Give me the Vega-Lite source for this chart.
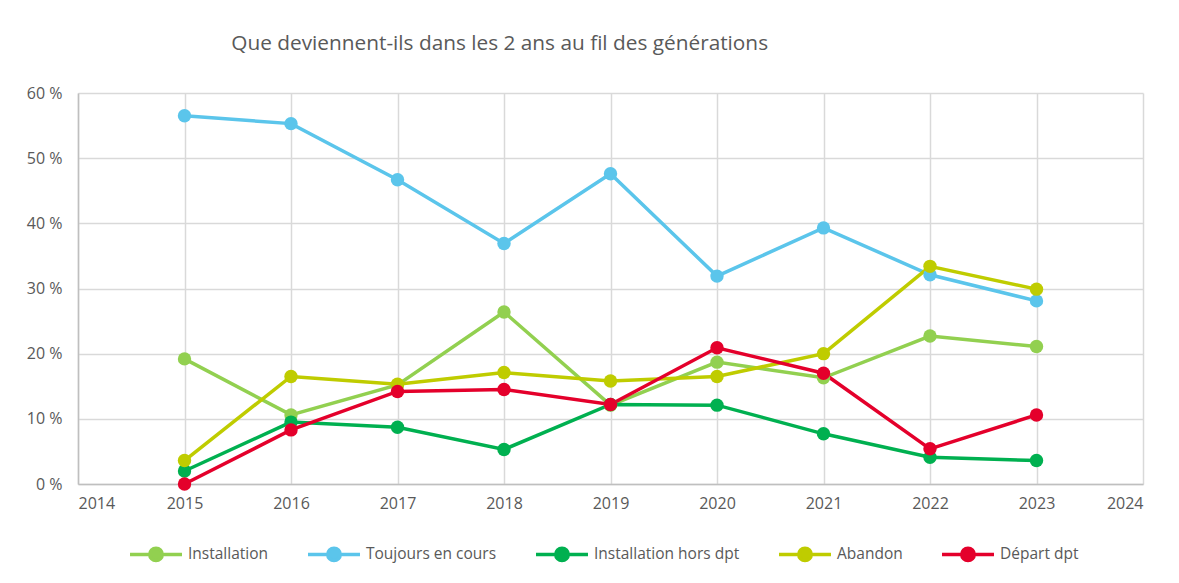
{
  "$schema": "https://vega.github.io/schema/vega-lite/v6.json",
  "autosize": {"type": "none"},
  "width": 1065,
  "height": 391,
  "padding": {"left": 78, "top": 93, "right": 36, "bottom": 99},
  "background": "white",
  "title": {
    "text": "Que deviennent-ils dans les 2 ans au fil des générations",
    "anchor": "start",
    "dx": 155,
    "offset": 30,
    "font": "Open Sans",
    "fontSize": 20.8,
    "fontWeight": "normal",
    "color": "#595959",
    "encode": {"title": {"update": {"dx": {"value": 205}}}}
  },
  "config": {
    "view": {"stroke": null},
    "font": "Open Sans"
  },
  "data": {
    "values": [
      {"annee": 2015, "serie": "Installation", "valeur": 19.2},
      {"annee": 2016, "serie": "Installation", "valeur": 10.6},
      {"annee": 2017, "serie": "Installation", "valeur": 15.2},
      {"annee": 2018, "serie": "Installation", "valeur": 26.4},
      {"annee": 2019, "serie": "Installation", "valeur": 12.1},
      {"annee": 2020, "serie": "Installation", "valeur": 18.7},
      {"annee": 2021, "serie": "Installation", "valeur": 16.3},
      {"annee": 2022, "serie": "Installation", "valeur": 22.7},
      {"annee": 2023, "serie": "Installation", "valeur": 21.1},
      {"annee": 2015, "serie": "Toujours en cours", "valeur": 56.5},
      {"annee": 2016, "serie": "Toujours en cours", "valeur": 55.3},
      {"annee": 2017, "serie": "Toujours en cours", "valeur": 46.7},
      {"annee": 2018, "serie": "Toujours en cours", "valeur": 36.9},
      {"annee": 2019, "serie": "Toujours en cours", "valeur": 47.6},
      {"annee": 2020, "serie": "Toujours en cours", "valeur": 31.9},
      {"annee": 2021, "serie": "Toujours en cours", "valeur": 39.3},
      {"annee": 2022, "serie": "Toujours en cours", "valeur": 32.1},
      {"annee": 2023, "serie": "Toujours en cours", "valeur": 28.1},
      {"annee": 2015, "serie": "Installation hors dpt", "valeur": 2.0},
      {"annee": 2016, "serie": "Installation hors dpt", "valeur": 9.5},
      {"annee": 2017, "serie": "Installation hors dpt", "valeur": 8.7},
      {"annee": 2018, "serie": "Installation hors dpt", "valeur": 5.3},
      {"annee": 2019, "serie": "Installation hors dpt", "valeur": 12.2},
      {"annee": 2020, "serie": "Installation hors dpt", "valeur": 12.1},
      {"annee": 2021, "serie": "Installation hors dpt", "valeur": 7.7},
      {"annee": 2022, "serie": "Installation hors dpt", "valeur": 4.1},
      {"annee": 2023, "serie": "Installation hors dpt", "valeur": 3.6},
      {"annee": 2015, "serie": "Abandon", "valeur": 3.6},
      {"annee": 2016, "serie": "Abandon", "valeur": 16.5},
      {"annee": 2017, "serie": "Abandon", "valeur": 15.3},
      {"annee": 2018, "serie": "Abandon", "valeur": 17.1},
      {"annee": 2019, "serie": "Abandon", "valeur": 15.8},
      {"annee": 2020, "serie": "Abandon", "valeur": 16.5},
      {"annee": 2021, "serie": "Abandon", "valeur": 20.0},
      {"annee": 2022, "serie": "Abandon", "valeur": 33.4},
      {"annee": 2023, "serie": "Abandon", "valeur": 29.9},
      {"annee": 2015, "serie": "Départ dpt", "valeur": 0.0},
      {"annee": 2016, "serie": "Départ dpt", "valeur": 8.3},
      {"annee": 2017, "serie": "Départ dpt", "valeur": 14.2},
      {"annee": 2018, "serie": "Départ dpt", "valeur": 14.5},
      {"annee": 2019, "serie": "Départ dpt", "valeur": 12.2},
      {"annee": 2020, "serie": "Départ dpt", "valeur": 20.9},
      {"annee": 2021, "serie": "Départ dpt", "valeur": 17.0},
      {"annee": 2022, "serie": "Départ dpt", "valeur": 5.4},
      {"annee": 2023, "serie": "Départ dpt", "valeur": 10.6}
    ]
  },
  "mark": {"type": "line", "strokeWidth": 3.5, "point": {"filled": true, "size": 180, "opacity": 1}},
  "encoding": {
    "x": {
      "field": "annee",
      "type": "quantitative",
      "scale": {"domain": [2014, 2024], "nice": false, "zero": false},
      "axis": {
        "title": null,
        "values": [2014, 2015, 2016, 2017, 2018, 2019, 2020, 2021, 2022, 2023, 2024],
        "format": "d",
        "grid": true,
        "gridColor": "#d9d9d9",
        "gridWidth": 1.5,
        "domainColor": "#bfbfbf",
        "domainWidth": 1.5,
        "ticks": false,
        "labelPadding": 11,
        "labelFontSize": 16,
        "labelColor": "#595959",
        "labelFont": "Open Sans"
      }
    },
    "y": {
      "field": "valeur",
      "type": "quantitative",
      "scale": {"domain": [0, 60], "nice": false},
      "axis": {
        "title": null,
        "values": [0, 10, 20, 30, 40, 50, 60],
        "labelExpr": "datum.value + ' %'",
        "grid": true,
        "gridColor": "#d9d9d9",
        "gridWidth": 1.5,
        "domainColor": "#bfbfbf",
        "domainWidth": 1.5,
        "ticks": false,
        "labelPadding": 16,
        "labelFontSize": 16,
        "labelColor": "#595959",
        "labelFont": "Open Sans"
      }
    },
    "color": {
      "field": "serie",
      "type": "nominal",
      "sort": ["Installation", "Toujours en cours", "Installation hors dpt", "Abandon", "Départ dpt"],
      "scale": {
        "domain": ["Installation", "Toujours en cours", "Installation hors dpt", "Abandon", "Départ dpt"],
        "range": ["#92d050", "#5bc5eb", "#00b050", "#bfcc00", "#e4002b"]
      },
      "legend": {
        "title": null,
        "orient": "none",
        "legendX": 50,
        "legendY": 433,
        "direction": "horizontal",
        "columns": 5,
        "columnPadding": 32,
        "symbolType": "M-1,0H1M0.24,0A0.24,0.24 0 1,1 -0.24,0A0.24,0.24 0 1,1 0.24,0Z",
        "symbolSize": 2700,
        "symbolStrokeWidth": 3.5,
        "labelFontSize": 15.5,
        "labelColor": "#595959",
        "labelFont": "Open Sans",
        "labelOffset": 4,
        "encode": {
          "symbols": {"update": {"fill": {"scale": "color", "field": "value"}, "fillOpacity": {"value": 1}}}
        }
      }
    }
  }
}
